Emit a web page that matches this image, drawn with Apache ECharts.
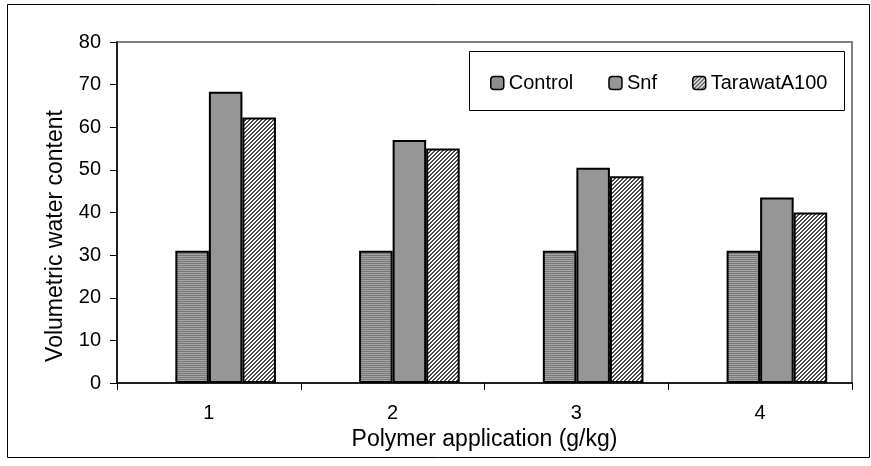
<!DOCTYPE html>
<html><head><meta charset="utf-8">
<script src="https://cdn.jsdelivr.net/npm/echarts@6/dist/echarts.min.js"></script>
<style>html,body{margin:0;padding:0;background:#fff}#c{width:871px;height:466px}</style>
</head><body><div id="c"></div>
<script>
var categories = ['1', '2', '3', '4'];
var controlValues = [31, 31, 31, 31];
var snfValues = [68.3, 57, 50.5, 43.5];
var tarawatValues = [62.3, 55, 48.5, 40];
var yTicks = {min: 0, max: 80, interval: 10};

function stripePattern() {
  var c = document.createElement('canvas'); c.width = 4; c.height = 2;
  var g = c.getContext('2d');
  g.fillStyle = '#a6a6a6'; g.fillRect(0, 0, 4, 1);
  g.fillStyle = '#777777'; g.fillRect(0, 1, 4, 1);
  return c;
}
function diagPattern() {
  var c = document.createElement('canvas'); c.width = 4; c.height = 4;
  var g = c.getContext('2d');
  g.fillStyle = '#ffffff'; g.fillRect(0, 0, 4, 4);
  g.fillStyle = '#4a4a4a';
  for (var y = 0; y < 4; y++) for (var x = 0; x < 4; x++) {
    if ((x + y) % 4 === 0 || (x + y) % 4 === 1) g.fillRect(x, y, 1, 1);
  }
  return c;
}
var font = 'Liberation Sans, Arial, sans-serif';
var chart = echarts.init(document.getElementById('c'), null, {renderer: 'canvas'});
chart.setOption({
  animation: false,
  backgroundColor: '#fff',
  grid: {left: 117, right: 19, top: 42, bottom: 83, show: true, borderColor: '#808080', borderWidth: 2, backgroundColor: 'transparent'},
  legend: {
    data: ['Control', 'Snf', 'TarawatA100'],
    left: 485, top: 68, itemWidth: 13, itemHeight: 13, itemGap: 35,
    textStyle: {fontFamily: font, fontSize: 20, color: '#000'},
    itemStyle: {borderColor: '#000', borderWidth: 1.5}
  },
  xAxis: {
    type: 'category', data: categories,
    axisLine: {lineStyle: {color: '#000', width: 1.5}},
    axisTick: {show: true, length: 7, lineStyle: {color: '#000'}},
    axisLabel: {fontFamily: font, fontSize: 20, color: '#000', margin: 20},
    name: 'Polymer application (g/kg)', nameLocation: 'middle', nameGap: 43,
    nameTextStyle: {fontFamily: font, fontSize: 23, color: '#000'}
  },
  yAxis: {
    type: 'value', min: yTicks.min, max: yTicks.max, interval: yTicks.interval,
    splitLine: {show: false},
    axisLine: {show: true, lineStyle: {color: '#000', width: 1.5}},
    axisTick: {show: true, length: 7, lineStyle: {color: '#000'}},
    axisLabel: {fontFamily: font, fontSize: 20, color: '#000', margin: 16}
  },
  graphic: [
    {type: 'rect', shape: {x: 7.5, y: 4.5, width: 862, height: 453}, style: {fill: 'none', stroke: '#000', lineWidth: 1}, silent: true},
    {type: 'rect', shape: {x: 469.5, y: 51.5, width: 375, height: 59}, style: {fill: '#fff', stroke: '#000', lineWidth: 1}, z: 1},
    {type: 'text', x: 56, y: 236, rotation: Math.PI / 2,
      style: {text: 'Volumetric water content', font: '23px ' + font, fill: '#000', align: 'center', verticalAlign: 'middle'}}
  ],
  series: [
    {type: 'bar', name: '_gap', data: categories.map(function () { return '-'; }), barGap: '0%', barCategoryGap: '27%'},
    {type: 'bar', name: 'Control', data: controlValues, barGap: '0%', barCategoryGap: '27%',
      itemStyle: {color: {image: stripePattern(), repeat: 'repeat'}, borderColor: '#000', borderWidth: 2}},
    {type: 'bar', name: 'Snf', data: snfValues, barGap: '0%', barCategoryGap: '27%',
      itemStyle: {color: '#969696', borderColor: '#000', borderWidth: 2}},
    {type: 'bar', name: 'TarawatA100', data: tarawatValues, barGap: '0%', barCategoryGap: '27%',
      itemStyle: {color: {image: diagPattern(), repeat: 'repeat'}, borderColor: '#000', borderWidth: 2}}
  ]
});
</script></body></html>
